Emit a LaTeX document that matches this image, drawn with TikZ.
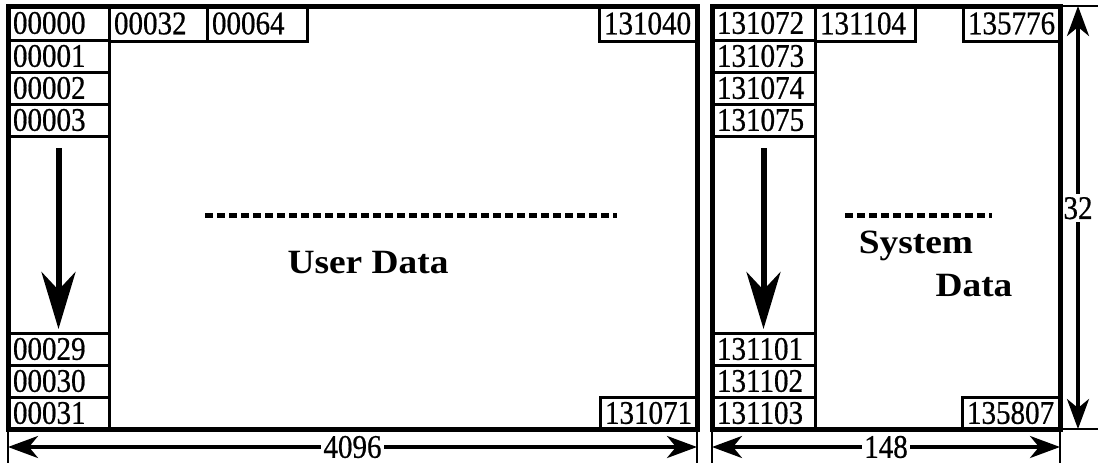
\documentclass[tikz,border=0pt]{standalone}
\usepackage{fontspec}
\setmainfont{Liberation Serif}
\newfontfamily\cellfam[FakeStretch=0.88,FakeBold=0.6]{Liberation Serif}
\usetikzlibrary{arrows.meta,calc}
\newcommand\cellfont{\cellfam\fontsize{33}{34}\selectfont}
\newcommand\bigbold{\fontsize{34}{36}\selectfont\bfseries}
\begin{document}
\begin{tikzpicture}[x=1pt,y=-1pt,
  cell/.style={draw, line width=3pt, inner xsep=5pt, inner ysep=0pt, font=\cellfont,
    anchor=north west, align=left, outer sep=0pt},
  lcol/.style={cell, text width=91pt, minimum height=#1},
  rcol/.style={cell, text width=93pt, minimum height=#1},
  frame/.style={draw, line width=5pt, anchor=north west, inner sep=0pt, outer sep=0pt},
  ext/.style={line width=2.5pt},
  dimline/.style={line width=3.5pt, {Stealth[length=30pt,width=22pt,inset=9pt]}-{Stealth[length=30pt,width=22pt,inset=9pt]}},
  flowarrow/.style={line width=6pt, -{Stealth[length=57pt,width=34pt,inset=18pt]}},
  dots/.style={line width=5pt, dash pattern=on 8pt off 4pt},
  lbl/.style={fill=white, inner xsep=2pt, inner ysep=1pt, font=\cellfont},
  datalbl/.style={font=\bigbold, xscale=1.1}
]
\useasboundingbox (0,0) rectangle (1109,466);

% ---- left block cells
\node[lcol=34pt] (l0) at (8,6) {00000};
\node[lcol=32pt] (l1) at (8,40) {00001};
\node[lcol=32pt] (l2) at (8,72) {00002};
\node[lcol=32pt] (l3) at (8,104) {00003};
\node[lcol=197pt] (lmid) at (8,136) {};
\node[lcol=32pt] (l29) at (8,333) {00029};
\node[lcol=32pt] (l30) at (8,365) {00030};
\node[lcol=32pt] (l31) at (8,397) {00031};
\node[cell, text width=88pt, minimum height=35pt] (t32) at (109,6) {00032};
\node[cell, text width=90pt, minimum height=35pt] (t64) at (207,6) {00064};
\node[cell, text width=88pt, minimum height=35pt] (t131040) at (599,6) {131040};
\node[cell, text width=87pt, minimum height=32pt] (b131071) at (600,397) {131071};

% ---- right block cells
\node[rcol=34pt] (r0) at (712,6) {131072};
\node[rcol=32pt] (r1) at (712,40) {131073};
\node[rcol=32pt] (r2) at (712,72) {131074};
\node[rcol=32pt] (r3) at (712,104) {131075};
\node[rcol=197pt] (rmid) at (712,136) {};
\node[rcol=32pt] (r29) at (712,333) {131101};
\node[rcol=32pt] (r30) at (712,365) {131102};
\node[rcol=32pt] (r31) at (712,397) {131103};
\node[cell, text width=90pt, minimum height=35pt] (t131104) at (815,6) {131104};
\node[cell, text width=87pt, minimum height=35pt] (t135776) at (963,6) {135776};
\node[cell, text width=88pt, minimum height=32pt] (b135807) at (962,397) {135807};

% ---- frames
\node[frame, minimum width=689pt, minimum height=423pt] (frameL) at (8,6) {};
\node[frame, minimum width=348pt, minimum height=423pt] (frameR) at (712,6) {};

% ---- flow arrows
\coordinate (aL1) at ($(lmid.north)+(0,12)$);
\coordinate (aL2) at ($(lmid.south)+(0,-4)$);
\coordinate (aR1) at ($(rmid.north)+(0,12)$);
\coordinate (aR2) at ($(rmid.south)+(0,-4)$);
\draw[flowarrow] (aL1) -- (aL2);
\draw[flowarrow] (aR1) -- (aR2);

% ---- dotted separators and labels
\coordinate (uL) at (205,215);
\coordinate (uR) at (617,215);
\draw[dots] (uL) -- (uR);
\node[datalbl] (userdata) at (368,263) {User Data};
\coordinate (sL) at (845,215);
\coordinate (sR) at (992,215);
\draw[dots] (sL) -- (sR);
\node[datalbl] (system) at (916,246) {System};
\node[datalbl] (data) at (974,286) {Data};

% ---- extension lines
\coordinate (xL1) at (8,463);
\coordinate (xL2) at (697,463);
\coordinate (xR1) at (712,463);
\coordinate (xR2) at (1060,463);
\draw[ext] (frameL.south west) -- (xL1);
\draw[ext] (frameL.south east) -- (xL2);
\draw[ext] (frameR.south west) -- (xR1);
\draw[ext] (frameR.south east) -- (xR2);
\coordinate (yT) at (1098,6);
\coordinate (yB) at (1098,429);
\draw[ext] (frameR.north east) -- (yT);
\draw[ext] (frameR.south east) -- (yB);

% ---- dimension lines
\coordinate (dL1) at (8,447);
\coordinate (dL2) at (697,447);
\coordinate (dR1) at (712,447);
\coordinate (dR2) at (1060,447);
\coordinate (dV1) at (1078,6);
\coordinate (dV2) at (1078,429);
\draw[dimline] (dL1) -- node[lbl] (w4096) {4096} (dL2);
\draw[dimline] (dR1) -- node[lbl] (w148) {148} (dR2);
\draw[dimline] (dV1) -- node[lbl, pos=0.478, inner xsep=0pt, inner ysep=3pt] (h32) {32} (dV2);
\end{tikzpicture}
\end{document}
